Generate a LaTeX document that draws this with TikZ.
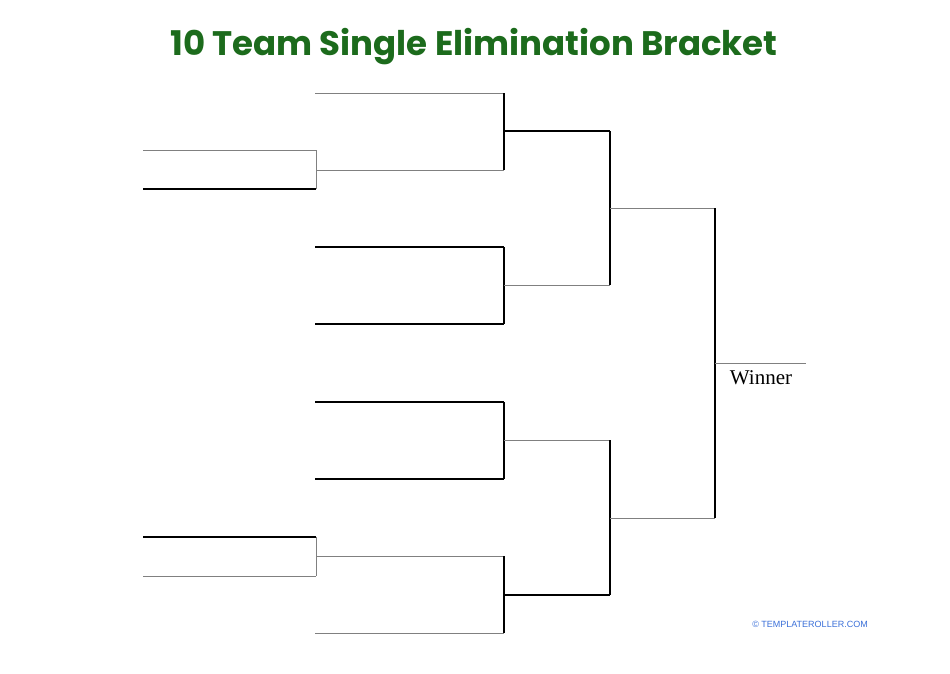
\documentclass[tikz,border=0pt]{standalone}
\usepackage{fontspec}
\setmainfont{Liberation Serif}
\newfontfamily\titlefont{Poppins}
\newfontfamily\footfont{Liberation Sans}
\definecolor{titlegreen}{HTML}{1C6B1C}
\definecolor{footblue}{HTML}{3A6FD8}
\begin{document}
\begin{tikzpicture}[x=1pt, y=-1pt]
\useasboundingbox (0,0) rectangle (950,673);

\tikzset{dark/.style={line width=1.1pt, black}};
\tikzset{pale/.style={line width=0.9pt, black!50}};

% play-in column
\coordinate (a1) at (143,150);
\coordinate (a2) at (143,189);
\coordinate (a3) at (143,537);
\coordinate (a4) at (143,576);
\coordinate (b1) at (316,150);
\coordinate (b2) at (316,189);
\coordinate (b3) at (316,537);
\coordinate (b4) at (316,576);
\coordinate (bm1) at (316,170);
\coordinate (bm2) at (316,556);

% first round
\coordinate (s1) at (315,93);
\coordinate (s3) at (315,247);
\coordinate (s4) at (315,324);
\coordinate (s5) at (315,402);
\coordinate (s6) at (315,479);
\coordinate (s8) at (315,633);
\coordinate (c1) at (504,93);
\coordinate (c2) at (504,170);
\coordinate (c3) at (504,247);
\coordinate (c4) at (504,324);
\coordinate (c5) at (504,402);
\coordinate (c6) at (504,479);
\coordinate (c7) at (504,556);
\coordinate (c8) at (504,633);
\coordinate (cm1) at (504,131);
\coordinate (cm2) at (504,285);
\coordinate (cm3) at (504,440);
\coordinate (cm4) at (504,595);

% second round
\coordinate (d1) at (610,131);
\coordinate (d2) at (610,285);
\coordinate (d3) at (610,440);
\coordinate (d4) at (610,595);
\coordinate (dm1) at (610,208);
\coordinate (dm2) at (610,518);

% final
\coordinate (e1) at (715,208);
\coordinate (e2) at (715,518);
\coordinate (em) at (715,363);
\coordinate (w) at (806,363);

\draw[pale] (a1) -- (b1);
\draw[dark] (a2) -- (b2);
\draw[dark] (a3) -- (b3);
\draw[pale] (a4) -- (b4);
\draw[pale] (b1) -- (b2);
\draw[pale] (b3) -- (b4);

\draw[pale] (s1) -- (c1);
\draw[pale] (bm1) -- (c2);
\draw[dark] (s3) -- (c3);
\draw[dark] (s4) -- (c4);
\draw[dark] (s5) -- (c5);
\draw[dark] (s6) -- (c6);
\draw[pale] (bm2) -- (c7);
\draw[pale] (s8) -- (c8);
\draw[dark] (c1) -- (c2);
\draw[dark] (c3) -- (c4);
\draw[dark] (c5) -- (c6);
\draw[dark] (c7) -- (c8);

\draw[dark] (cm1) -- (d1);
\draw[pale] (cm2) -- (d2);
\draw[pale] (cm3) -- (d3);
\draw[dark] (cm4) -- (d4);
\draw[dark] (d1) -- (d2);
\draw[dark] (d3) -- (d4);

\draw[pale] (dm1) -- (e1);
\draw[pale] (dm2) -- (e2);
\draw[dark] (e1) -- (e2);
\draw[pale] (em) -- (w);

\node[anchor=base, font=\fontsize{21}{24}\selectfont] (winner) at (761,384) {Winner};
\node[anchor=base, text=titlegreen, font=\titlefont\bfseries\fontsize{34}{38}\selectfont] (title) at (474,55) {10 Team Single Elimination Bracket};
\node[anchor=base, text=footblue, font=\footfont\fontsize{9}{10}\selectfont] (credit) at (810,627) {\textcopyright{} TEMPLATEROLLER.COM};
\end{tikzpicture}
\end{document}
